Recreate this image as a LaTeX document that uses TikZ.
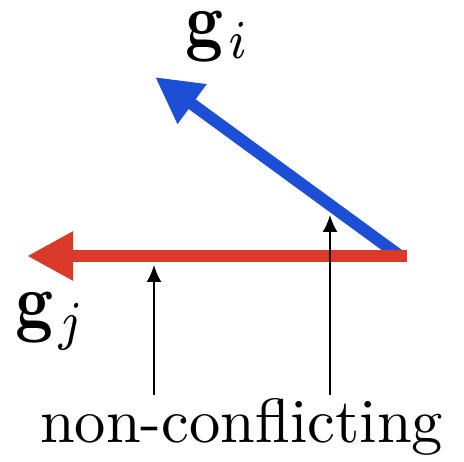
\documentclass[tikz,border=0pt]{standalone}
\usetikzlibrary{arrows.meta}
\definecolor{vred}{RGB}{218,58,42}
\definecolor{vblue}{RGB}{28,78,214}
\begin{document}
\begin{tikzpicture}[x=1pt,y=-1pt,
  vec/.style={line width=12pt,-{Triangle[length=46pt,width=46pt]}},
  pointer/.style={line width=2.2pt,-{Latex[length=17pt,width=15pt]}},
  lab/.style={inner sep=0pt}]
\useasboundingbox (0,0) rectangle (464,462);
\coordinate (bs) at (400,256);
\coordinate (bt) at (155,77);
\coordinate (rs) at (407,256);
\coordinate (rt) at (27,256);
\coordinate (p1s) at (154,395);
\coordinate (p1t) at (154,265);
\coordinate (p2s) at (330,395);
\coordinate (p2t) at (330,215);
\draw[vec,vblue] (bs) -- (bt);
\draw[vec,vred] (rs) -- (rt);
\draw[pointer] (p1s) -- (p1t);
\draw[pointer] (p2s) -- (p2t);
\node[lab,anchor=base west] (nc) at (40,443) {\scalebox{6.25}{non-conflicting}};
\node[lab,anchor=north west] (gi) at (185,12) {\scalebox{6.6}[7.8]{$\mathbf{g}_{\kern0.8pt i}$}};
\node[lab,anchor=north west] (gj) at (15,293) {\scalebox{6.6}[7.8]{$\mathbf{g}_{\kern0.8pt j}$}};
\end{tikzpicture}
\end{document}
